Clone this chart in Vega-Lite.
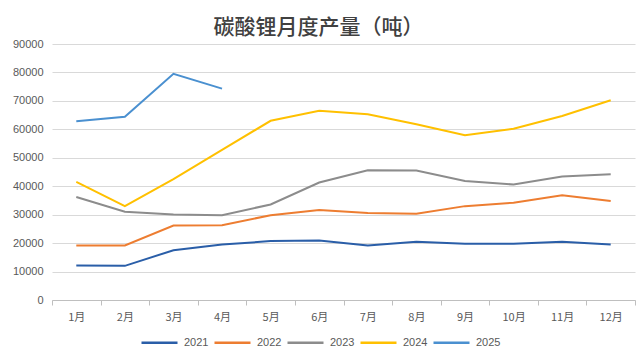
{
  "$schema": "https://vega.github.io/schema/vega-lite/v6.json",
  "autosize": "none",
  "width": 583,
  "height": 256,
  "padding": {"left": 52, "top": 44, "right": 5, "bottom": 58},
  "background": "#ffffff",
  "title": {
    "text": "碳酸锂月度产量（吨）",
    "font": "Noto Sans CJK SC",
    "fontSize": 21,
    "fontWeight": 500,
    "color": "#404040",
    "anchor": "middle",
    "dx": -25,
    "offset": 0
  },
  "config": {
    "view": {"stroke": null},
    "font": "Liberation Sans"
  },
  "data": {
    "values": [
      {"year": "2021", "month": "1月", "value": 12100},
      {"year": "2021", "month": "2月", "value": 12000},
      {"year": "2021", "month": "3月", "value": 17500},
      {"year": "2021", "month": "4月", "value": 19500},
      {"year": "2021", "month": "5月", "value": 20700},
      {"year": "2021", "month": "6月", "value": 20900},
      {"year": "2021", "month": "7月", "value": 19200},
      {"year": "2021", "month": "8月", "value": 20500},
      {"year": "2021", "month": "9月", "value": 19800},
      {"year": "2021", "month": "10月", "value": 19800},
      {"year": "2021", "month": "11月", "value": 20500},
      {"year": "2021", "month": "12月", "value": 19500},
      {"year": "2022", "month": "1月", "value": 19200},
      {"year": "2022", "month": "2月", "value": 19200},
      {"year": "2022", "month": "3月", "value": 26200},
      {"year": "2022", "month": "4月", "value": 26300},
      {"year": "2022", "month": "5月", "value": 29800},
      {"year": "2022", "month": "6月", "value": 31600},
      {"year": "2022", "month": "7月", "value": 30600},
      {"year": "2022", "month": "8月", "value": 30300},
      {"year": "2022", "month": "9月", "value": 33000},
      {"year": "2022", "month": "10月", "value": 34200},
      {"year": "2022", "month": "11月", "value": 36800},
      {"year": "2022", "month": "12月", "value": 34800},
      {"year": "2023", "month": "1月", "value": 36200},
      {"year": "2023", "month": "2月", "value": 31000},
      {"year": "2023", "month": "3月", "value": 30100},
      {"year": "2023", "month": "4月", "value": 29800},
      {"year": "2023", "month": "5月", "value": 33600},
      {"year": "2023", "month": "6月", "value": 41300},
      {"year": "2023", "month": "7月", "value": 45600},
      {"year": "2023", "month": "8月", "value": 45500},
      {"year": "2023", "month": "9月", "value": 41800},
      {"year": "2023", "month": "10月", "value": 40600},
      {"year": "2023", "month": "11月", "value": 43400},
      {"year": "2023", "month": "12月", "value": 44200},
      {"year": "2024", "month": "1月", "value": 41500},
      {"year": "2024", "month": "2月", "value": 33000},
      {"year": "2024", "month": "3月", "value": 42500},
      {"year": "2024", "month": "4月", "value": 52800},
      {"year": "2024", "month": "5月", "value": 63000},
      {"year": "2024", "month": "6月", "value": 66500},
      {"year": "2024", "month": "7月", "value": 65300},
      {"year": "2024", "month": "8月", "value": 61800},
      {"year": "2024", "month": "9月", "value": 57900},
      {"year": "2024", "month": "10月", "value": 60200},
      {"year": "2024", "month": "11月", "value": 64700},
      {"year": "2024", "month": "12月", "value": 70200},
      {"year": "2025", "month": "1月", "value": 62800},
      {"year": "2025", "month": "2月", "value": 64400},
      {"year": "2025", "month": "3月", "value": 79500},
      {"year": "2025", "month": "4月", "value": 74300}
    ]
  },
  "mark": {"type": "line", "strokeWidth": 2, "interpolate": "linear"},
  "encoding": {
    "x": {
      "field": "month",
      "type": "ordinal",
      "sort": ["1月", "2月", "3月", "4月", "5月", "6月", "7月", "8月", "9月", "10月", "11月", "12月"],
      "scale": {"type": "band", "paddingInner": 0, "paddingOuter": 0},
      "bandPosition": 0.5,
      "axis": {
        "title": null,
        "labelAngle": 0,
        "labelFont": "Noto Sans CJK SC",
        "labelFontSize": 11,
        "labelColor": "#595959",
        "labelPadding": 6,
        "tickBand": "extent",
        "tickSize": 5,
        "tickColor": "#bfbfbf",
        "domainColor": "#bfbfbf",
        "grid": false
      }
    },
    "y": {
      "field": "value",
      "type": "quantitative",
      "scale": {"domain": [0, 90000], "nice": false},
      "axis": {
        "title": null,
        "values": [0, 10000, 20000, 30000, 40000, 50000, 60000, 70000, 80000, 90000],
        "format": "d",
        "labelFontSize": 11,
        "labelColor": "#595959",
        "labelPadding": 9,
        "ticks": false,
        "domain": false,
        "gridColor": "#d9d9d9",
        "gridWidth": 1
      }
    },
    "color": {
      "field": "year",
      "type": "nominal",
      "scale": {
        "domain": ["2021", "2022", "2023", "2024", "2025"],
        "range": ["#2a5ea8", "#ed7d31", "#8c8c8c", "#ffc000", "#4a90d0"]
      },
      "legend": {
        "title": null,
        "orient": "none",
        "direction": "horizontal",
        "legendX": 88,
        "legendY": 279,
        "symbolType": "stroke",
        "symbolSize": 1296,
        "symbolStrokeWidth": 2.5,
        "labelFontSize": 11,
        "labelColor": "#595959",
        "labelOffset": 5,
        "columnPadding": 0
      }
    }
  }
}
